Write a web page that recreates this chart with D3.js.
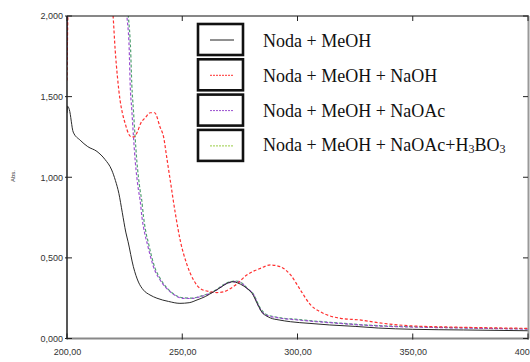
<!DOCTYPE html>
<html>
<head>
<meta charset="utf-8">
<script src="https://cdn.jsdelivr.net/npm/d3@7"></script>
<style>
  body { margin: 0; background: #fff; }
  svg { display: block; }
</style>
</head>
<body>
<svg width="530" height="362"></svg>
<script>
// wavelengths (nm) and absorbances
const meohNm  = [200, 200.3, 201, 202.7, 205.7, 209, 213, 216.5, 219.4, 221, 222.5, 224, 225.5, 226.5, 228.8, 231, 233.2, 236, 239, 244, 249, 253, 256.4, 260, 263.6, 267, 269.4, 272, 274, 276.7, 279, 280.3, 282.5, 284.7, 286.5, 288.3, 292, 297, 305, 314, 325, 335, 350, 372, 400];
const meohAbs = [1.40, 1.44, 1.42, 1.28, 1.23, 1.19, 1.16, 1.11, 1.045, 0.98, 0.90, 0.78, 0.66, 0.60, 0.445, 0.35, 0.30, 0.27, 0.25, 0.23, 0.218, 0.222, 0.239, 0.26, 0.29, 0.32, 0.342, 0.352, 0.345, 0.325, 0.30, 0.28, 0.218, 0.16, 0.14, 0.127, 0.115, 0.104, 0.094, 0.084, 0.075, 0.065, 0.057, 0.053, 0.048];

const naohNm  = [200, 200.6, 219.5, 220, 220.9, 221.9, 223, 224, 225.2, 226.7, 228, 229, 230.5, 232, 234, 236.1, 238, 240.4, 241.9, 243.3, 244.8, 247, 249.1, 252, 254.9, 257.8, 262, 265, 268, 271, 273, 278, 283.9, 288.3, 292.6, 297, 301.3, 305.7, 310, 318.7, 327, 335, 350, 370, 400];
const naohAbs = [1.60, 2.10, 2.10, 2.0, 1.79, 1.62, 1.48, 1.40, 1.335, 1.27, 1.25, 1.25, 1.28, 1.335, 1.37, 1.40, 1.40, 1.31, 1.25, 1.12, 0.98, 0.776, 0.61, 0.46, 0.363, 0.31, 0.29, 0.285, 0.29, 0.31, 0.33, 0.394, 0.435, 0.456, 0.445, 0.394, 0.30, 0.208, 0.165, 0.125, 0.115, 0.098, 0.078, 0.07, 0.063];

const naoacNm  = [200, 200.4, 225.5, 226, 227, 227.4, 228.1, 228.8, 229.6, 230.3, 231, 231.7, 232.5, 233.9, 234.6, 236, 237.5, 240.4, 244.8, 250.6, 254, 257.8, 263.6, 269.4, 273.8, 276, 278.1, 281, 283.2, 286.1, 291.2, 300, 314.3, 334.6, 353, 372, 400];
const naoacAbs = [1.70, 2.10, 2.10, 2.0, 1.79, 1.58, 1.42, 1.26, 1.10, 1.0, 0.92, 0.86, 0.755, 0.64, 0.60, 0.52, 0.445, 0.363, 0.29, 0.249, 0.248, 0.259, 0.29, 0.342, 0.355, 0.34, 0.311, 0.27, 0.197, 0.146, 0.129, 0.115, 0.098, 0.078, 0.07, 0.065, 0.058];

const boricNm  = [200, 200.5, 226, 226.6, 227.6, 228.1, 228.8, 229.5, 230.3, 231, 231.7, 232.4, 233.2, 234.5, 235.2, 236.5, 238, 240.8, 245, 250.6, 254, 257.8, 263.6, 269.4, 273.6, 276, 278.1, 281, 283.4, 286.3, 291.2, 300, 314.3, 334.6, 353, 372, 400];
const boricAbs = [1.75, 2.10, 2.10, 2.0, 1.79, 1.58, 1.42, 1.26, 1.10, 1.0, 0.92, 0.86, 0.755, 0.64, 0.60, 0.52, 0.445, 0.363, 0.29, 0.252, 0.25, 0.262, 0.293, 0.345, 0.356, 0.342, 0.313, 0.272, 0.2, 0.15, 0.132, 0.118, 0.1, 0.08, 0.072, 0.066, 0.06];

const seriesNames = ["Noda + MeOH", "Noda + MeOH + NaOH", "Noda + MeOH + NaOAc", "Noda + MeOH + NaOAc+H3BO3"];
const seriesColors = ["#2a2a2a", "#ff3030", "#9a4fd0", "#4fa070"];
const legendColors = ["#222", "#ff3030", "#9a4fd0", "#99cc44"];
const seriesDash = [null, "3,2", "3,2", "3,2"];

const yTicks = [0, 0.5, 1, 1.5, 2];
const yTickLabels = ["0,000", "0,500", "1,000", "1,500", "2,000"];
const xTicks = [200, 250, 300, 350, 400];
const xTickLabels = ["200,00", "250,00", "300,00", "350,00", "400,00"];

document.addEventListener("DOMContentLoaded", function() {
    const svg = d3.select("svg");

    const area = { left: 67, right: 528, top: 16, bottom: 338.5 };

    const scX = d3.scaleLinear().domain([200, 400]).range([area.left, area.right]);
    const scY = d3.scaleLinear().domain([0, 2]).range([area.bottom, area.top]);

    svg.append("defs").append("clipPath").attr("id", "plot")
        .append("rect")
        .attr("x", area.left).attr("y", area.top)
        .attr("width", area.right - area.left).attr("height", area.bottom - area.top);

    // curves
    const allSeries = [
        [meohNm, meohAbs],
        [naohNm, naohAbs],
        [naoacNm, naoacAbs],
        [boricNm, boricAbs]
    ];

    const line = d3.line()
        .x(d => scX(d[0]))
        .y(d => scY(d[1]))
        .curve(d3.curveMonotoneX);

    const g = svg.append("g").attr("clip-path", "url(#plot)");
    // dashed ones first, the solid black one on top
    [3, 2, 1, 0].forEach(i => {
        const pts = allSeries[i][0].map((x, k) => [x, allSeries[i][1][k]]);
        g.append("path")
            .datum(pts)
            .attr("d", line)
            .attr("fill", "none")
            .attr("stroke", seriesColors[i])
            .attr("stroke-width", i === 0 ? 1 : 1.2)
            .attr("stroke-dasharray", seriesDash[i]);
    });

    // frame: top black, right and bottom gray, left black
    svg.append("line")
        .attr("x1", area.left).attr("x2", area.right + 1)
        .attr("y1", area.top).attr("y2", area.top)
        .attr("stroke", "#111").attr("stroke-width", 1.2);
    svg.append("line")
        .attr("x1", area.right + 0.5).attr("x2", area.right + 0.5)
        .attr("y1", area.top).attr("y2", area.bottom)
        .attr("stroke", "#999").attr("stroke-width", 2);
    svg.append("line")
        .attr("x1", area.left).attr("x2", area.right + 1)
        .attr("y1", area.bottom).attr("y2", area.bottom)
        .attr("stroke", "#888").attr("stroke-width", 1.8);
    svg.append("line")
        .attr("x1", area.left).attr("x2", area.left)
        .attr("y1", area.top).attr("y2", area.bottom)
        .attr("stroke", "#111").attr("stroke-width", 1.4);

    // y axis
    const axisY = d3.axisLeft(scY)
        .tickValues(yTicks)
        .tickSize(0)
        .tickPadding(4)
        .tickFormat((d, i) => yTickLabels[i]);
    const gy = svg.append("g")
        .attr("transform", `translate(${area.left}, 0)`)
        .call(axisY);
    gy.select(".domain").remove();
    gy.selectAll("text")
        .style("font-family", "Liberation Sans, Arial, sans-serif")
        .style("font-size", "9px")
        .attr("fill", "#333");

    yTicks.forEach(v => {
        svg.append("line")
            .attr("x1", area.left - 2).attr("x2", area.left + 5)
            .attr("y1", scY(v)).attr("y2", scY(v))
            .attr("stroke", "#222");
        svg.append("line")
            .attr("x1", area.right - 5).attr("x2", area.right)
            .attr("y1", scY(v)).attr("y2", scY(v))
            .attr("stroke", "#222");
    });

    // x axis
    const axisX = d3.axisBottom(scX)
        .tickValues(xTicks)
        .tickSize(0)
        .tickPadding(10)
        .tickFormat((d, i) => xTickLabels[i]);
    const gx = svg.append("g")
        .attr("transform", `translate(0, ${area.bottom})`)
        .call(axisX);
    gx.select(".domain").remove();
    gx.selectAll("text")
        .style("font-family", "Liberation Sans, Arial, sans-serif")
        .style("font-size", "9px")
        .attr("fill", "#333");

    xTicks.forEach(v => {
        svg.append("line")
            .attr("x1", scX(v)).attr("x2", scX(v))
            .attr("y1", area.bottom - 5).attr("y2", area.bottom + 1)
            .attr("stroke", "#222");
        svg.append("line")
            .attr("x1", scX(v)).attr("x2", scX(v))
            .attr("y1", area.top).attr("y2", area.top + 5)
            .attr("stroke", "#222");
    });

    // axis titles
    svg.append("text")
        .attr("transform", "translate(15, 176) rotate(-90)")
        .attr("text-anchor", "middle")
        .style("font-family", "Liberation Sans, Arial, sans-serif")
        .style("font-size", "6px")
        .attr("fill", "#333")
        .text("Abs.");
    svg.append("text")
        .attr("x", 296).attr("y", 366)
        .attr("text-anchor", "middle")
        .style("font-family", "Liberation Sans, Arial, sans-serif")
        .style("font-size", "7px")
        .attr("fill", "#333")
        .text("nm");

    // legend
    const leg = svg.append("g");
    seriesNames.forEach((name, i) => {
        const top = 24 + i * 35.3;
        leg.append("rect")
            .attr("x", 198).attr("y", top)
            .attr("width", 45).attr("height", 31)
            .attr("fill", "#fff")
            .attr("stroke", "#111")
            .attr("stroke-width", 2.6);
        leg.append("line")
            .attr("x1", 210).attr("x2", 234)
            .attr("y1", top + 16).attr("y2", top + 16)
            .attr("stroke", legendColors[i])
            .attr("stroke-width", 1)
            .attr("stroke-dasharray", i === 0 ? null : "2,1");

        const t = leg.append("text")
            .attr("x", 263).attr("y", 47.3 + i * 34.6)
            .style("font-family", "Liberation Serif, Times New Roman, serif")
            .style("font-size", "18px")
            .attr("fill", "#111");
        if (name.includes("H3BO3")) {
            t.append("tspan").text("Noda + MeOH + NaOAc+H");
            t.append("tspan").attr("dy", 2).style("font-size", "12px").text("3");
            t.append("tspan").attr("dy", -2).text("BO");
            t.append("tspan").attr("dy", 2).style("font-size", "12px").text("3");
        } else {
            t.text(name);
        }
    });
});
</script>
</body>
</html>
